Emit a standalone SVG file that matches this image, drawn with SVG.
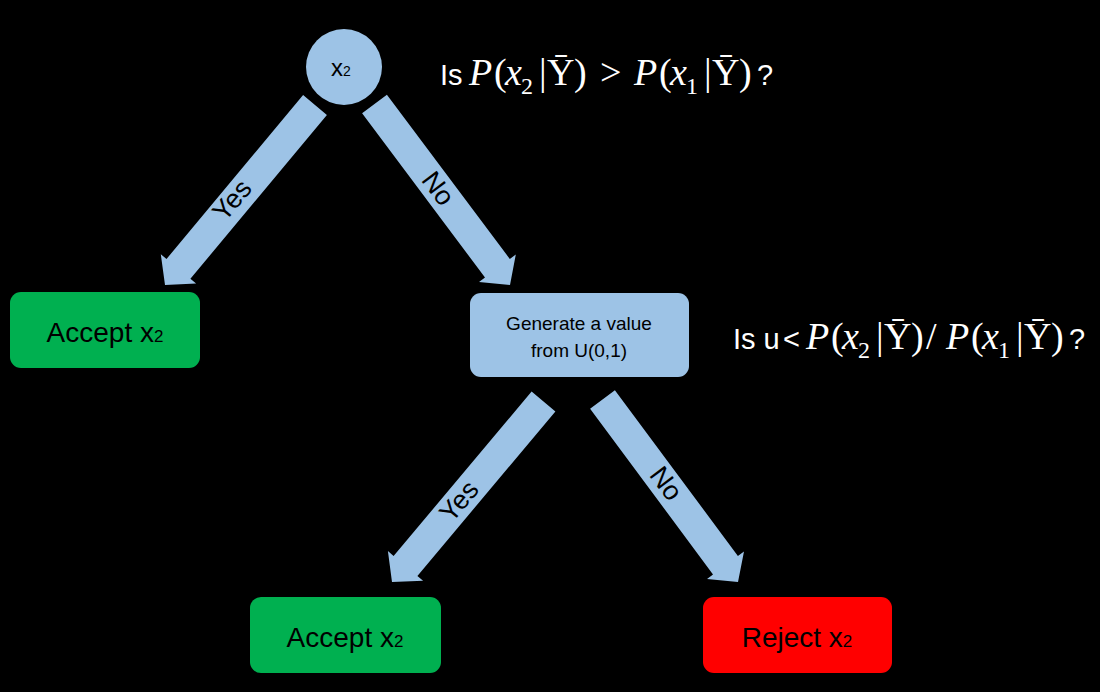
<svg xmlns="http://www.w3.org/2000/svg" width="1100" height="692" viewBox="0 0 1100 692">
<defs>
<style>
.bg{fill:#000}
.blue{fill:#9DC3E6}
.green{fill:#00B050}
.red{fill:#FF0000}
.lbl{font-family:"Liberation Sans","Open Sans",sans-serif;fill:#000;text-anchor:middle}
.big{font-size:28px}
.arr{font-family:"Liberation Sans","Open Sans",sans-serif;font-size:27px;fill:#000;text-anchor:middle}
.q{font-family:"Liberation Sans","Open Sans",sans-serif;font-size:29px;fill:#fff}
.m{font-family:"Liberation Serif","DejaVu Serif",serif;font-size:38px;fill:#fff}
.it{font-style:italic}
.sub{font-size:24px}
</style>
</defs>
<rect class="bg" x="0" y="0" width="1100" height="692"/>
<g id="connectors">
<polygon class="blue" points="326.9,114.9 190.4,278.8 196.1,283.6 165,285 160.8,254.2 166.5,259.0 303.1,95.1"/>
<polygon class="blue" points="386.9,94.7 509.8,258.9 515.8,254.4 510,285 479.0,282.0 485.0,277.5 362.1,113.3"/>
<polygon class="blue" points="555.4,411.5 417.4,575.9 423.1,580.7 392,582 387.9,551.1 393.6,556.0 531.6,391.5"/>
<polygon class="blue" points="614.9,390.3 737.9,555.9 744.0,551.4 738,582 707.0,578.9 713.0,574.4 590.1,408.7"/>
<text class="arr" transform="translate(239,206) rotate(-50)">Yes</text>
<text class="arr" transform="translate(431,194) rotate(53)">No</text>
<text class="arr" transform="translate(466,507) rotate(-50)">Yes</text>
<text class="arr" transform="translate(659,489) rotate(53)">No</text>
</g>
<g id="root">
<circle class="blue" cx="344" cy="67" r="38"/>
<text class="lbl" x="341" y="76" font-size="24">x<tspan font-size="14">2</tspan></text>
</g>
<g id="q1">
<text class="q" x="440" y="85">Is</text>
<text class="m" y="85"><tspan class="it" x="469">P</tspan><tspan x="494">(</tspan><tspan class="it" x="505">x</tspan><tspan class="sub" x="521" y="94">2</tspan><tspan x="539" y="85">|</tspan><tspan x="547" y="85">Ȳ</tspan><tspan x="574">)</tspan><tspan x="600">&gt;</tspan><tspan class="it" x="634">P</tspan><tspan x="659">(</tspan><tspan class="it" x="670">x</tspan><tspan class="sub" x="686" y="94">1</tspan><tspan x="704" y="85">|</tspan><tspan x="712">Ȳ</tspan><tspan x="739">)</tspan></text>
<text class="q" x="757" y="85">?</text>
</g>
<g id="accept1">
<rect class="green" x="10" y="292" width="190" height="76" rx="11"/>
<text class="lbl big" x="105" y="342">Accept x<tspan font-size="17">2</tspan></text>
</g>
<g id="generate">
<rect class="blue" x="470" y="293" width="219" height="84" rx="11"/>
<text class="lbl" x="579" y="330" font-size="19">Generate a value</text>
<text class="lbl" x="579" y="357" font-size="19">from U(0,1)</text>
</g>
<g id="q2">
<text class="q" x="733" y="349" font-size="28">Is u</text>
<text class="q" x="783" y="349" font-size="28">&lt;</text>
<text class="m" y="349"><tspan class="it" x="806">P</tspan><tspan x="831">(</tspan><tspan class="it" x="842">x</tspan><tspan class="sub" x="858" y="358">2</tspan><tspan x="876" y="349">|</tspan><tspan x="884">Ȳ</tspan><tspan x="911">)</tspan><tspan x="926">/</tspan><tspan class="it" x="946">P</tspan><tspan x="971">(</tspan><tspan class="it" x="982">x</tspan><tspan class="sub" x="998" y="358">1</tspan><tspan x="1016" y="349">|</tspan><tspan x="1024">Ȳ</tspan><tspan x="1051">)</tspan></text>
<text class="q" x="1069" y="349">?</text>
</g>
<g id="accept2">
<rect class="green" x="250" y="597" width="191" height="76" rx="11"/>
<text class="lbl big" x="345" y="647">Accept x<tspan font-size="17">2</tspan></text>
</g>
<g id="reject">
<rect class="red" x="703" y="597" width="189" height="76" rx="11"/>
<text class="lbl big" x="797" y="647">Reject x<tspan font-size="17">2</tspan></text>
</g>
</svg>
